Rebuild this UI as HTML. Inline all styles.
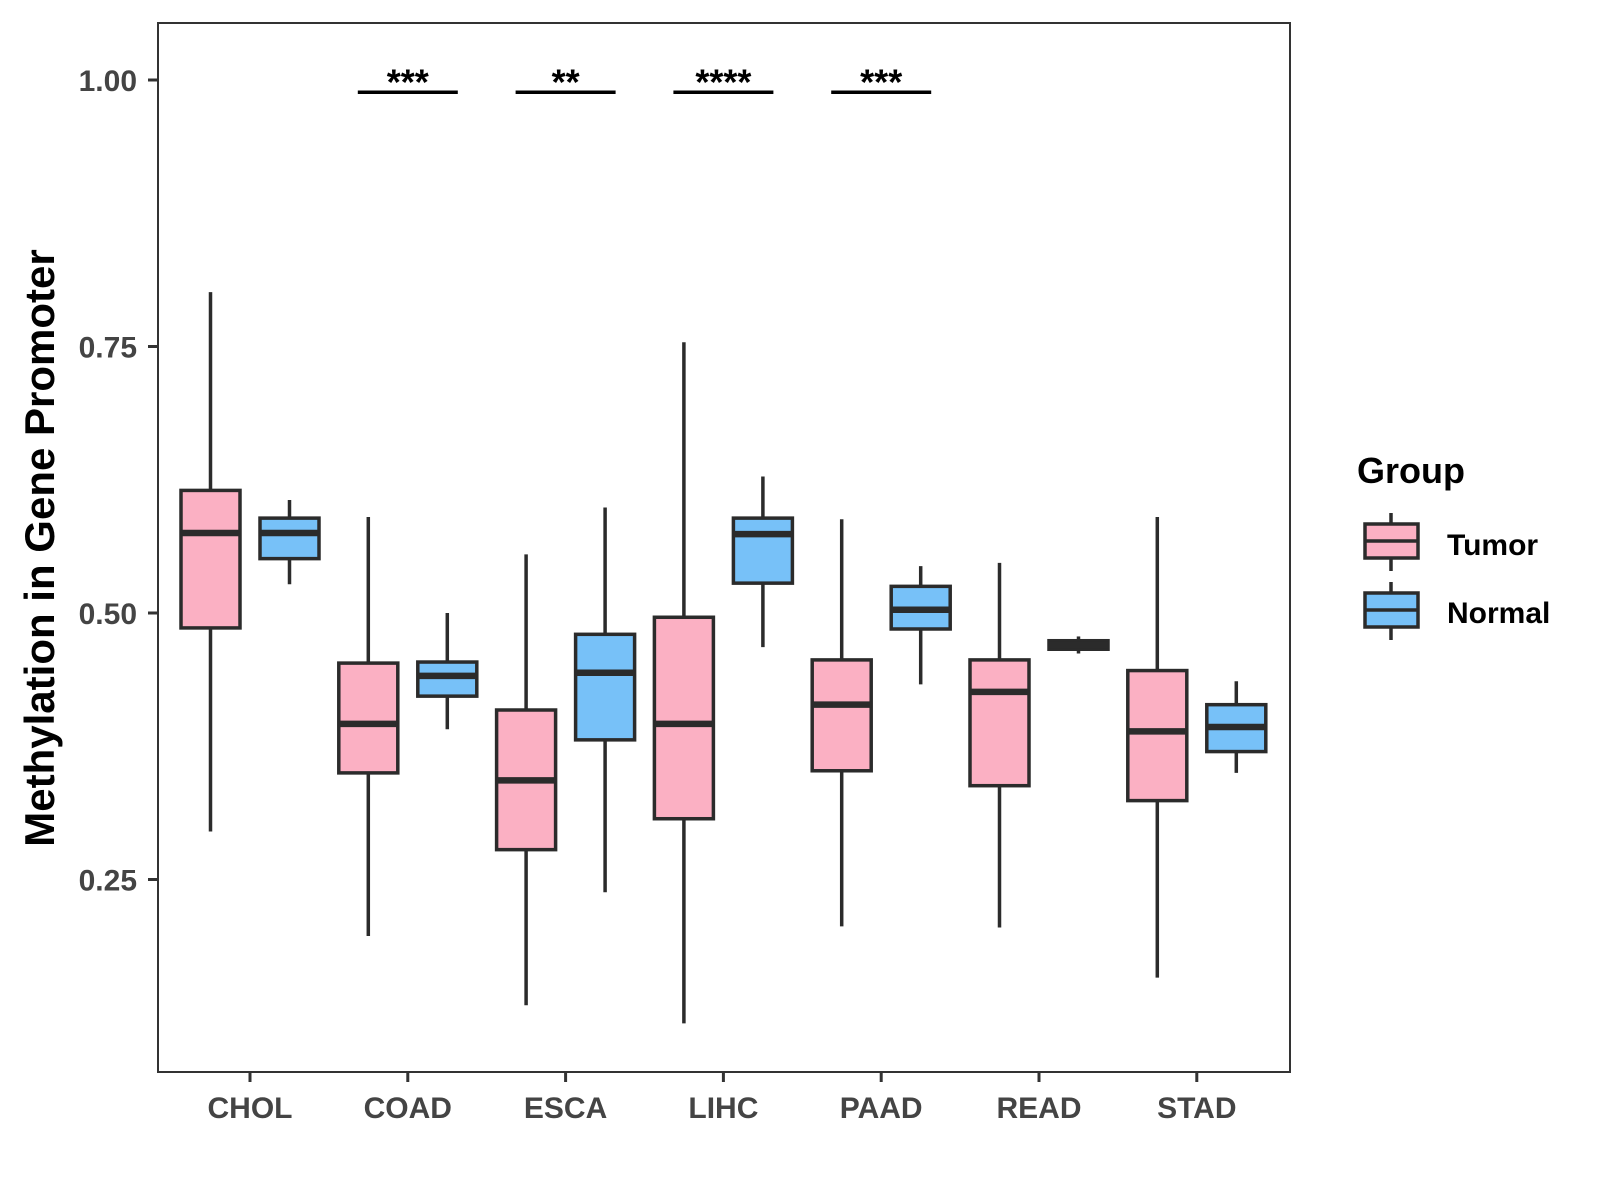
<!DOCTYPE html>
<html><head><meta charset="utf-8"><style>
html,body{margin:0;padding:0;background:#fff;}
svg{display:block;font-family:"Liberation Sans",Arial,sans-serif;}
</style></head><body>
<svg id="chart" width="1600" height="1200" viewBox="0 0 1600 1200" xmlns="http://www.w3.org/2000/svg">
<rect x="0" y="0" width="1600" height="1200" fill="#fff"/>
<rect x="158" y="23" width="1132" height="1049" fill="none" stroke="#333" stroke-width="2"/>
<g id="yaxis"></g>
<g id="xaxis"></g>
<g id="boxes"></g>
<g id="sig"></g>
<text transform="translate(54,548) rotate(-90)" text-anchor="middle" font-size="42" font-weight="bold" fill="#000">Methylation in Gene Promoter</text>
<g>
<text x="1357" y="483" font-size="36" font-weight="bold" fill="#000">Group</text>
<g>
<line x1="1391" y1="513" x2="1391" y2="571" stroke="#2b2b2b" stroke-width="3.5"/>
<rect x="1365" y="524" width="53" height="34" fill="#FBB0C3" stroke="#2b2b2b" stroke-width="3.5"/>
<line x1="1365" y1="541" x2="1418" y2="541" stroke="#2b2b2b" stroke-width="3.5"/>
<text x="1447" y="555" font-size="30" font-weight="bold" fill="#000">Tumor</text>
</g>
<g>
<line x1="1391" y1="582" x2="1391" y2="640" stroke="#2b2b2b" stroke-width="3.5"/>
<rect x="1365" y="593" width="53" height="34" fill="#77C1F8" stroke="#2b2b2b" stroke-width="3.5"/>
<line x1="1365" y1="610" x2="1418" y2="610" stroke="#2b2b2b" stroke-width="3.5"/>
<text x="1447" y="623" font-size="30" font-weight="bold" fill="#000">Normal</text>
</g>
</g>
</svg>
<script>
const categories = ["CHOL","COAD","ESCA","LIHC","PAAD","READ","STAD"];
// [lower whisker, Q1, median, Q3, upper whisker]
const tumorStats = [
  [0.295,0.486,0.575,0.615,0.801],
  [0.197,0.350,0.396,0.453,0.590],
  [0.132,0.278,0.343,0.409,0.555],
  [0.115,0.307,0.396,0.496,0.754],
  [0.206,0.352,0.414,0.456,0.588],
  [0.205,0.338,0.426,0.456,0.547],
  [0.158,0.324,0.389,0.446,0.590]
];
const normalStats = [
  [0.527,0.551,0.575,0.589,0.606],
  [0.391,0.422,0.441,0.454,0.500],
  [0.238,0.381,0.444,0.480,0.599],
  [0.468,0.528,0.574,0.589,0.628],
  [0.433,0.485,0.503,0.525,0.544],
  [0.462,0.466,0.470,0.474,0.478],
  [0.350,0.370,0.393,0.414,0.436]
];
const yTicks = [0.25,0.50,0.75,1.00];
const yTickLabels = ["0.25","0.50","0.75","1.00"];
const sigCategories = ["COAD","ESCA","LIHC","PAAD"];
const sigLabels = ["***","**","****","***"];
const sigLevel = 0.9885;

const NS="http://www.w3.org/2000/svg";
function yScale(v){return 80+(1-v)*1066;}
function xScale(i){return 250+i*157.8;}
function mk(tag,attrs,parent){const e=document.createElementNS(NS,tag);for(const k in attrs)e.setAttribute(k,attrs[k]);parent.appendChild(e);return e;}

const ya=document.getElementById('yaxis');
yTicks.forEach((v,i)=>{
  const y=yScale(v);
  const t=mk('line',{x1:148,x2:158,y1:y,y2:y,stroke:'#333','stroke-width':3},ya);
  
  
  const l=mk('text',{x:137,y:y+11,'text-anchor':'end','font-size':30,'font-weight':'bold',fill:'#444'},ya);
  l.textContent=yTickLabels[i];
  
  
});
const xa=document.getElementById('xaxis');
categories.forEach((c,i)=>{
  const x=xScale(i);
  const t=mk('line',{x1:x,x2:x,y1:1072,y2:1082,stroke:'#333','stroke-width':3},xa);
  
  
  const l=mk('text',{x:x,y:1118,'text-anchor':'middle','font-size':30,'font-weight':'bold',fill:'#444'},xa);
  l.textContent=c;
  
  
});
const bg=document.getElementById('boxes');
function drawBox(cx,s,fill,name){
  const g=mk('g',{},bg);
  
  
  const w=59;
  mk('line',{x1:cx,x2:cx,y1:yScale(s[4]),y2:yScale(s[0]),stroke:'#2b2b2b','stroke-width':3.5},g);
  mk('rect',{x:cx-w/2,y:yScale(s[3]),width:w,height:Math.max(1,yScale(s[1])-yScale(s[3])),fill:fill,stroke:'#2b2b2b','stroke-width':3.5},g);
  mk('line',{x1:cx-w/2,x2:cx+w/2,y1:yScale(s[2]),y2:yScale(s[2]),stroke:'#2b2b2b','stroke-width':6.5},g);
}
categories.forEach((c,i)=>{
  drawBox(xScale(i)-39.5,tumorStats[i],'#FBB0C3','box-tumor-'+c.toLowerCase());
  drawBox(xScale(i)+39.5,normalStats[i],'#77C1F8','box-normal-'+c.toLowerCase());
});
const sg=document.getElementById('sig');
sigCategories.forEach((c,k)=>{
  const i=categories.indexOf(c);
  const x=xScale(i), y=yScale(sigLevel);
  const ln=mk('line',{x1:x-50,x2:x+50,y1:y,y2:y,stroke:'#000','stroke-width':3.5},sg);
  
  
  const t=mk('text',{x:x,y:y+2,'text-anchor':'middle','font-size':36,'font-weight':'bold',fill:'#000'},sg);
  t.textContent=sigLabels[k];
  
  
});
</script>
</body></html>
